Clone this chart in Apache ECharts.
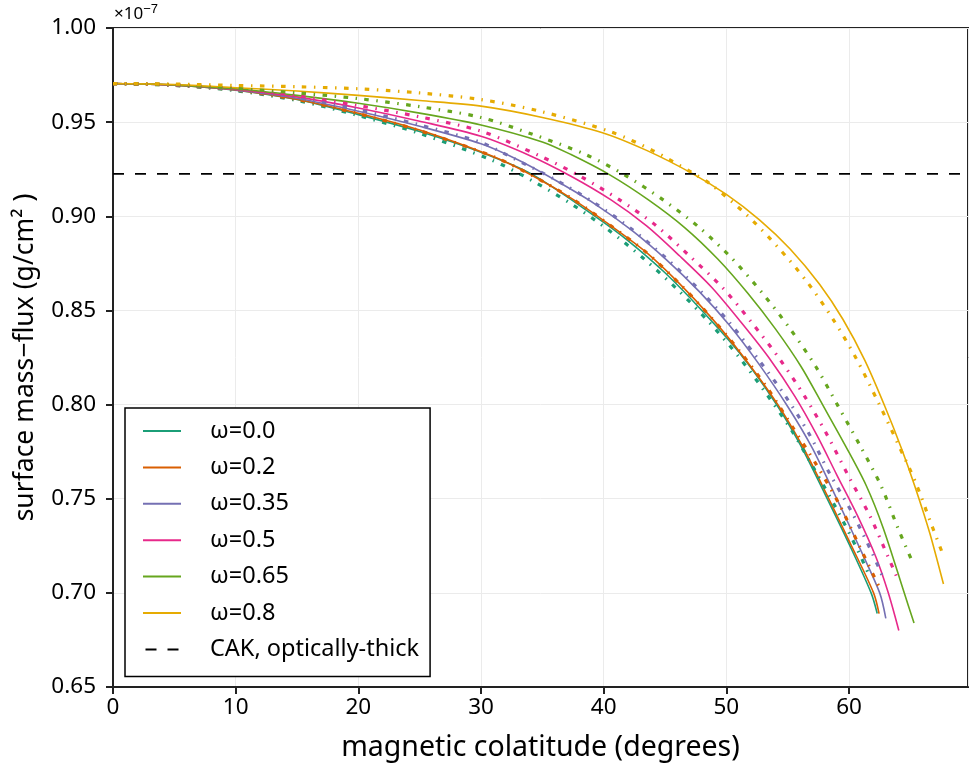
<!DOCTYPE html>
<html><head><meta charset="utf-8">
<script src="https://cdn.jsdelivr.net/npm/echarts@6/dist/echarts.min.js"></script>
<style>html,body{margin:0;padding:0;background:#fff}#c{width:969px;height:769px}</style>
</head><body><div id="c"></div>
<script>
const FONT = 'Noto Sans';
const omegaLabels = ['ω=0.0', 'ω=0.2', 'ω=0.35', 'ω=0.5', 'ω=0.65', 'ω=0.8'];
const omegaColors = ['#1b9e77', '#d95f02', '#7570b3', '#e7298a', '#66a61e', '#e6ab02'];
const cakLabel = 'CAK, optically-thick';
const cakLevel = 0.9225;
const xRange = [0, 69.7];
const yRange = [0.65, 1.00];

// solid curves: [colatitude (deg), mass flux (1e-7 g/cm^2)]
const w00_solid = [[0,0.9705],[5,0.9696],[10,0.9670],[15,0.9620],[20,0.9540],[25,0.9450],[30,0.9340],[34.1,0.9225],[39.3,0.9000],[42,0.8870],[45,0.8700],[48.0,0.8500],[51.0,0.8280],[54.0,0.8010],[56.0,0.7790],[58.0,0.7530],[60.0,0.7260],[61.8,0.7000],[62.3,0.6890]];
const w02_solid = [[0,0.9705],[5,0.9696],[10,0.9671],[15,0.9622],[20,0.9547],[25,0.9458],[31.0,0.9317],[34.25,0.9214],[37.5,0.9090],[40.5,0.8954],[43.5,0.8807],[46.2,0.8641],[48.7,0.8467],[51.2,0.8270],[54.2,0.8000],[56.2,0.7780],[58.2,0.7520],[60.2,0.7250],[62.0,0.7000],[62.45,0.6890]];
const w035_solid = [[0,0.9705],[5,0.9697],[10,0.9672],[15,0.9627],[20,0.9558],[25,0.9478],[30,0.9385],[33,0.9300],[36.1,0.9190],[39.3,0.9065],[42.3,0.8925],[45.1,0.8770],[47.8,0.8600],[50.2,0.8425],[52.6,0.8220],[55.0,0.7990],[57.0,0.7770],[59.0,0.7500],[61.0,0.7220],[62.5,0.7000],[63.0,0.6865]];
const w05_solid = [[0,0.9705],[5,0.9697],[10,0.9674],[15,0.9634],[20,0.9575],[25,0.9505],[30,0.9425],[34.0,0.9322],[37.3,0.9214],[40.6,0.9087],[43.5,0.8949],[46.2,0.8789],[48.8,0.8623],[51.2,0.8437],[53.5,0.8246],[55.6,0.8042],[57.4,0.7835],[59.0,0.7627],[60.7,0.7409],[62.2,0.7189],[63.2,0.7000],[64.06,0.6800]];
const w065_solid = [[0,0.9705],[5,0.9698],[10,0.9677],[15,0.9642],[20,0.9600],[25,0.9548],[30,0.9485],[35,0.9395],[37.3,0.9329],[40.5,0.9220],[43.65,0.9087],[46.6,0.8940],[49.3,0.8773],[51.75,0.8591],[54.0,0.8402],[56.1,0.8201],[57.9,0.7993],[59.7,0.7782],[61.4,0.7570],[62.8,0.7342],[64.5,0.7000],[65.3,0.6840]];
const w08_solid = [[0,0.9705],[5,0.9700],[10,0.9683],[15,0.9665],[20,0.9642],[25,0.9615],[30,0.9585],[35,0.9525],[39.9,0.9444],[43.5,0.9350],[47.2,0.9228],[50.0,0.9116],[52.7,0.8981],[55.2,0.8826],[57.6,0.8639],[59.5,0.8453],[61.3,0.8233],[63.0,0.7978],[64.3,0.7763],[65.4,0.7560],[66.6,0.7314],[67.7,0.7047]];

// dash-dot curves
const w00_dashdot = [[0,0.9705],[5,0.9695],[10,0.9667],[15,0.9615],[20,0.9535],[25,0.9440],[30.86,0.9299],[34.2,0.9188],[37.4,0.9064],[40.4,0.8927],[43.3,0.8773],[46.0,0.8612],[48.6,0.8437],[51.0,0.8255],[53.2,0.8063],[55.3,0.7865],[57.2,0.7653],[59.0,0.7444],[60.7,0.7228],[61.7,0.7085]];
const w02_dashdot = [[0,0.9705],[5,0.9696],[10,0.9670],[15,0.9620],[20,0.9545],[25,0.9455],[31.0,0.9317],[34.25,0.9214],[37.5,0.9090],[40.5,0.8954],[43.5,0.8807],[46.2,0.8641],[48.7,0.8467],[51.15,0.8278],[53.35,0.8087],[55.4,0.7880],[57.35,0.7680],[59.2,0.7471],[60.8,0.7255],[62.4,0.7039]];
const w035_dashdot = [[0,0.9705],[5,0.9697],[10,0.9673],[15,0.9630],[20,0.9565],[25,0.9485],[30,0.9392],[32.76,0.9304],[36.1,0.9193],[39.3,0.9069],[42.3,0.8931],[45.1,0.8777],[47.8,0.8609],[50.3,0.8432],[52.6,0.8241],[54.8,0.8046],[56.75,0.7844],[58.4,0.7636],[60.3,0.7420],[61.96,0.7202],[62.7,0.7092]];
const w05_dashdot = [[0,0.9705],[5,0.9698],[10,0.9677],[15,0.9640],[20,0.9588],[25,0.9528],[30,0.9452],[34.75,0.9322],[38.06,0.9214],[41.3,0.9087],[44.3,0.8949],[47.0,0.8789],[49.66,0.8623],[52.05,0.8437],[54.3,0.8246],[56.4,0.8042],[58.25,0.7835],[59.9,0.7627],[61.7,0.7409],[63.2,0.7189],[63.95,0.7076]];
const w065_dashdot = [[0,0.9705],[5,0.9699],[10,0.9679],[15,0.9655],[20,0.9625],[25,0.9582],[30,0.9525],[34,0.9440],[38.5,0.9329],[41.7,0.9220],[44.85,0.9087],[47.8,0.8940],[50.5,0.8773],[52.95,0.8591],[55.2,0.8402],[57.3,0.8201],[59.1,0.7993],[60.9,0.7782],[62.6,0.7570],[64.0,0.7342],[65.1,0.7175]];
const w08_dashdot = [[0,0.9705],[5,0.9702],[10,0.9695],[15,0.9688],[20,0.9677],[25,0.9655],[30,0.9620],[35,0.9555],[40.6,0.9448],[44.0,0.9349],[47.2,0.9232],[48.8,0.9166],[51.6,0.9011],[54.2,0.8836],[56.6,0.8650],[58.7,0.8453],[60.6,0.8243],[62.4,0.8010],[64.0,0.7790],[65.4,0.7591],[66.7,0.7366],[67.7,0.7197]];

const solidCurves = [w00_solid, w02_solid, w035_solid, w05_solid, w065_solid, w08_solid];
const dashdotCurves = [w00_dashdot, w02_dashdot, w035_dashdot, w05_dashdot, w065_dashdot, w08_dashdot];

const series = [];
solidCurves.forEach((d, i) => series.push({
  name: omegaLabels[i], type: 'line', data: d, showSymbol: false, symbol: 'none',
  smooth: 0.3, color: omegaColors[i],
  lineStyle: { color: omegaColors[i], width: 1.6 }, z: 2
}));
dashdotCurves.forEach((d, i) => series.push({
  name: omegaLabels[i] + ' (dash-dot)', type: 'line', data: d, showSymbol: false, symbol: 'none',
  smooth: 0.3, color: omegaColors[i],
  lineStyle: { color: omegaColors[i], width: 3.2, type: [4.5, 7.5, 1.5, 7.5], cap: 'butt' }, z: 3
}));
series.push({
  name: cakLabel, type: 'line', data: [[xRange[0], cakLevel], [xRange[1], cakLevel]],
  showSymbol: false, symbol: 'none', color: '#000',
  lineStyle: { color: '#000', width: 1.8, type: [11, 11] }, z: 4
});

const lineIcon = 'rect';
const dashIcon = 'path://M0,0h11v2h-11z M22,0h11v2h-11z';
const legendData = omegaLabels.map(n => ({ name: n, icon: lineIcon })).concat([{ name: cakLabel, icon: dashIcon }]);

const chart = echarts.init(document.getElementById('c'), null, { renderer: 'canvas' });
chart.setOption({
  animation: false,
  backgroundColor: '#fff',
  textStyle: { fontFamily: FONT },
  grid: { left: 113, right: 1, top: 28, bottom: 82, show: true, borderColor: '#222', borderWidth: 2, containLabel: false },
  xAxis: {
    type: 'value', min: xRange[0], max: xRange[1], interval: 10,
    axisLine: { show: true, lineStyle: { color: '#222', width: 2 } },
    axisTick: { show: true, length: 7, lineStyle: { color: '#222', width: 2 } },
    axisLabel: { fontSize: 22.5, color: '#000', margin: 9, showMaxLabel: false, fontFamily: FONT },
    splitLine: { show: true, lineStyle: { color: '#ebebeb', width: 1 } },
    name: 'magnetic colatitude (degrees)', nameLocation: 'middle', nameGap: 46,
    nameTextStyle: { fontSize: 28.5, color: '#000', fontFamily: FONT }
  },
  yAxis: {
    type: 'value', min: yRange[0], max: yRange[1], interval: 0.05,
    axisLine: { show: true, lineStyle: { color: '#222', width: 2 } },
    axisTick: { show: true, length: 7, lineStyle: { color: '#222', width: 2 } },
    axisLabel: { fontSize: 22.5, color: '#000', margin: 17, fontFamily: FONT, formatter: v => v.toFixed(2) },
    splitLine: { show: true, lineStyle: { color: '#ebebeb', width: 1 } },
    name: 'surface mass−flux (g/cm² )', nameLocation: 'middle', nameGap: 74,
    nameTextStyle: { fontSize: 26.5, color: '#000', fontFamily: FONT }
  },
  graphic: [{
    type: 'text', left: 114, top: 3,
    style: { text: '×10{s|−7}', fill: '#000', font: '17px ' + FONT,
      rich: { s: { fontSize: 13, verticalAlign: 'top', padding: [0, 0, 9, 0] } } }
  }],
  legend: {
    data: legendData, orient: 'vertical', left: 125, top: 408,
    padding: [10, 11, 14, 18], itemGap: 10.4, itemWidth: 38, itemHeight: 2,
    borderColor: '#000', borderWidth: 1.5, backgroundColor: '#fff', borderRadius: 0,
    textStyle: { fontSize: 23.5, color: '#000', fontFamily: FONT, lineHeight: 26, padding: [0, 0, 0, 24] },
    selectedMode: false
  },
  series: series
});
</script></body></html>
